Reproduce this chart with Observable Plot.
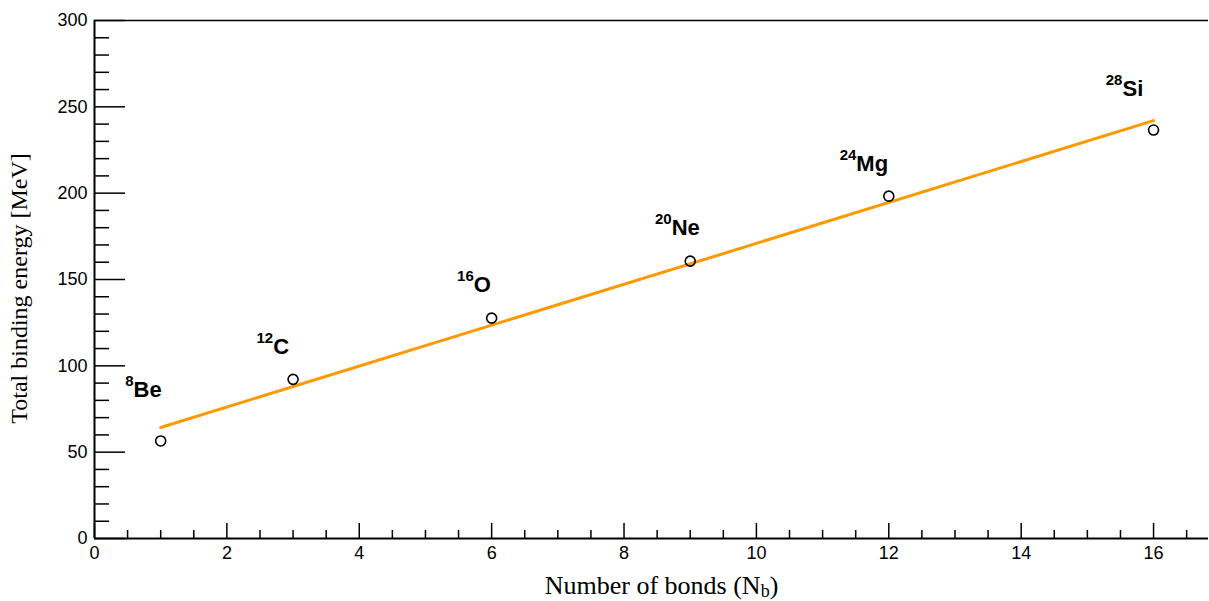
<!DOCTYPE html>
<html>
<head>
<meta charset="utf-8">
<script src="https://cdn.jsdelivr.net/npm/d3@7"></script>
<script src="https://cdn.jsdelivr.net/npm/@observablehq/plot@0.6"></script>
<style>
  html, body { margin: 0; padding: 0; background: #fff; }
  #chart { width: 1209px; height: 601px; }
</style>
</head>
<body>
<div id="chart"></div>
<script>
// ---- data ----
const bonds = [1, 3, 6, 9, 12, 16];
const energies = [56.5, 92.16, 127.62, 160.64, 198.26, 236.54];
const massNumbers = ["8", "12", "16", "20", "24", "28"];
const symbols = ["Be", "C", "O", "Ne", "Mg", "Si"];
const labelX = [0.59, 2.70, 5.73, 8.72, 11.51, 15.53];
const labelY = [81.7, 107.1, 142.5, 175.5, 213.1, 256.0];
const fitX = [1, 16];
const fitY = [64.3, 242.0];
const xTicks = [0, 2, 4, 6, 8, 10, 12, 14, 16];
const xTickLabels = ["0", "2", "4", "6", "8", "10", "12", "14", "16"];
const xMinorTicks = [0.5, 1, 1.5, 2.5, 3, 3.5, 4.5, 5, 5.5, 6.5, 7, 7.5, 8.5, 9, 9.5, 10.5, 11, 11.5, 12.5, 13, 13.5, 14.5, 15, 15.5, 16.5];
const yTicks = [0, 50, 100, 150, 200, 250, 300];
const yTickLabels = ["0", "50", "100", "150", "200", "250", "300"];
const yMinorTicks = [10, 20, 30, 40, 60, 70, 80, 90, 110, 120, 130, 140, 160, 170, 180, 190, 210, 220, 230, 240, 260, 270, 280, 290];
const xTitle = "Number of bonds (Nb)";
const yTitle = "Total binding energy [MeV]";

// ---- tables ----
const points = bonds.map((b, i) => ({x: b, y: energies[i]}));
const fit = fitX.map((x, i) => ({x, y: fitY[i]}));
const labels = symbols.map((s, i) => ({x: labelX[i], y: labelY[i], mass: massNumbers[i], sym: s}));

const W = 1209, H = 601;
const mL = 94, mR = 1, mT = 20, mB = 63;
const plotW = W - mL - mR, plotH = H - mT - mB;
const orange = "#ff9900";
const sans = "'Liberation Sans', Arial, Helvetica, sans-serif";
const serif = "'Liberation Serif', 'DejaVu Serif', serif";

const chart = Plot.plot({
  width: W,
  height: H,
  marginLeft: mL,
  marginRight: mR,
  marginTop: mT,
  marginBottom: mB,
  style: {fontFamily: sans, fontSize: "18px", color: "#000", background: "#fff"},
  x: {domain: [0, 16.83], label: null},
  y: {domain: [0, 300], label: null},
  marks: [
    // ticks (inside the frame, ROOT style)
    Plot.tickX(xTicks, {x: d => d, insetTop: plotH - 15, stroke: "#000", strokeWidth: 1.5}),
    Plot.tickX(xMinorTicks, {x: d => d, insetTop: plotH - 8, stroke: "#000", strokeWidth: 1.5}),
    Plot.tickY(yTicks, {y: d => d, insetRight: plotW - 31, stroke: "#000", strokeWidth: 1.5}),
    Plot.tickY(yMinorTicks, {y: d => d, insetRight: plotW - 15, stroke: "#000", strokeWidth: 1.5}),
    // axes lines and top frame
    Plot.ruleY([0], {stroke: "#000", strokeWidth: 2}),
    Plot.ruleX([0], {stroke: "#000", strokeWidth: 2}),
    Plot.ruleY([300], {stroke: "#000", strokeWidth: 1.5}),
    // tick labels
    Plot.axisX({ticks: xTicks, tickSize: 0, tickPadding: 8, tickFormat: d => xTickLabels[xTicks.indexOf(d)], label: null, fontSize: 18}),
    Plot.axisY({ticks: yTicks, tickSize: 0, tickPadding: 7, tickFormat: d => yTickLabels[yTicks.indexOf(d)], label: null, fontSize: 18}),
    // axis titles
    Plot.text([xTitle], {frameAnchor: "bottom", text: d => d, textAnchor: "middle", lineAnchor: "bottom", dy: 55, dx: 10, fontFamily: serif, fontSize: 26}),
    Plot.text([yTitle], {frameAnchor: "left", text: d => d, textAnchor: "middle", rotate: -90, lineAnchor: "bottom", dx: -68, dy: 9, fontFamily: serif, fontSize: 24}),
    // fit line
    Plot.line(fit, {x: "x", y: "y", stroke: orange, strokeWidth: 3}),
    // data points
    Plot.dot(points, {x: "x", y: "y", r: 5, stroke: "#000", strokeWidth: 1.6, fill: "none"}),
    // nucleus labels
    Plot.text(labels, {x: "x", y: "y", text: "mass", textAnchor: "end", lineAnchor: "bottom", dy: -11, fontSize: 15, fontWeight: "bold", fontFamily: sans}),
    Plot.text(labels, {x: "x", y: "y", text: "sym", textAnchor: "start", lineAnchor: "bottom", fontSize: 22, fontWeight: "bold", fontFamily: sans})
  ]
});

document.getElementById("chart").appendChild(chart);

// subscript b in x title
d3.select(chart).selectAll("text").filter(function() { return this.textContent === xTitle; })
  .each(function() {
    const t = d3.select(this);
    t.text(null);
    t.append("tspan").text("Number of bonds (N");
    t.append("tspan").attr("dy", 3).attr("font-size", 18).text("b");
    t.append("tspan").attr("dy", -3).text(")");
  });
</script>
</body>
</html>
